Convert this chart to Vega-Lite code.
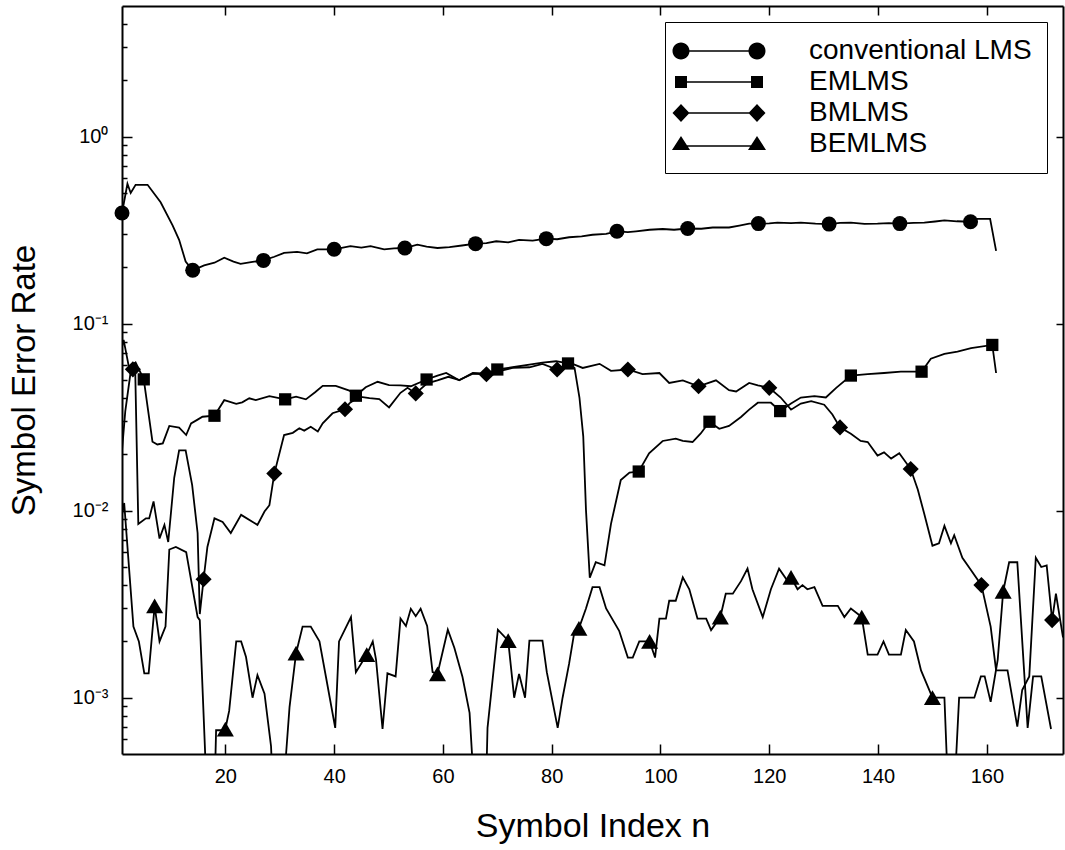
{
  "$schema": "https://vega.github.io/schema/vega-lite/v6.json",
  "width": 941,
  "height": 748,
  "autosize": {"type": "none"},
  "padding": {"left": 122, "top": 6, "right": 2, "bottom": 96},
  "background": "white",
  "config": {"view": {"stroke": null}, "font": "Liberation Sans"},
  "datasets": {
    "lines": [
      {"s":"C","n":1,"v":0.391},{"s":"C","n":2,"v":0.56},{"s":"C","n":2.6,"v":0.5},{"s":"C","n":3.5,"v":0.553},{"s":"C","n":5.7,"v":0.553},{"s":"C","n":8.1,"v":0.446},{"s":"C","n":10.3,"v":0.336},{"s":"C","n":11.5,"v":0.281},{"s":"C","n":12.7,"v":0.215},{"s":"C","n":14,"v":0.193},{"s":"C","n":16.1,"v":0.205},{"s":"C","n":18,"v":0.212},{"s":"C","n":19.8,"v":0.2255},{"s":"C","n":21.5,"v":0.215},{"s":"C","n":22.8,"v":0.209},{"s":"C","n":25,"v":0.214},{"s":"C","n":27,"v":0.218},{"s":"C","n":29,"v":0.228},{"s":"C","n":30.8,"v":0.239},{"s":"C","n":33.2,"v":0.242},{"s":"C","n":35,"v":0.238},{"s":"C","n":36.9,"v":0.25},{"s":"C","n":40,"v":0.25},{"s":"C","n":43,"v":0.26},{"s":"C","n":45,"v":0.255},{"s":"C","n":46.7,"v":0.26},{"s":"C","n":49.2,"v":0.25},{"s":"C","n":51,"v":0.253},{"s":"C","n":53,"v":0.254},{"s":"C","n":55.3,"v":0.265},{"s":"C","n":57,"v":0.258},{"s":"C","n":59,"v":0.254},{"s":"C","n":61.2,"v":0.257},{"s":"C","n":63.5,"v":0.262},{"s":"C","n":66,"v":0.268},{"s":"C","n":68,"v":0.27},{"s":"C","n":69.8,"v":0.276},{"s":"C","n":72,"v":0.272},{"s":"C","n":74,"v":0.281},{"s":"C","n":76.5,"v":0.278},{"s":"C","n":79,"v":0.285},{"s":"C","n":81,"v":0.283},{"s":"C","n":83.2,"v":0.29},{"s":"C","n":85.5,"v":0.293},{"s":"C","n":87.5,"v":0.299},{"s":"C","n":90,"v":0.302},{"s":"C","n":92,"v":0.312},{"s":"C","n":94,"v":0.309},{"s":"C","n":95.5,"v":0.312},{"s":"C","n":98,"v":0.318},{"s":"C","n":100.4,"v":0.321},{"s":"C","n":102.5,"v":0.318},{"s":"C","n":105,"v":0.323},{"s":"C","n":107.5,"v":0.322},{"s":"C","n":109.6,"v":0.327},{"s":"C","n":112.6,"v":0.327},{"s":"C","n":114.5,"v":0.335},{"s":"C","n":116.3,"v":0.343},{"s":"C","n":118,"v":0.343},{"s":"C","n":120,"v":0.344},{"s":"C","n":121.5,"v":0.347},{"s":"C","n":124,"v":0.345},{"s":"C","n":125.8,"v":0.347},{"s":"C","n":128.5,"v":0.343},{"s":"C","n":131,"v":0.341},{"s":"C","n":133,"v":0.346},{"s":"C","n":135,"v":0.347},{"s":"C","n":137.5,"v":0.342},{"s":"C","n":139.9,"v":0.343},{"s":"C","n":142,"v":0.345},{"s":"C","n":144,"v":0.343},{"s":"C","n":146.5,"v":0.346},{"s":"C","n":148.5,"v":0.347},{"s":"C","n":150.5,"v":0.352},{"s":"C","n":152.2,"v":0.357},{"s":"C","n":154.5,"v":0.353},{"s":"C","n":157,"v":0.351},{"s":"C","n":158.3,"v":0.364},{"s":"C","n":160.6,"v":0.364},{"s":"C","n":161.7,"v":0.245},

      {"s":"E","n":1,"v":0.075},{"s":"E","n":1.3,"v":0.082},{"s":"E","n":2.3,"v":0.058},{"s":"E","n":3.5,"v":0.062},{"s":"E","n":5,"v":0.0504},{"s":"E","n":6.6,"v":0.0234},{"s":"E","n":7.5,"v":0.0226},{"s":"E","n":8.5,"v":0.0229},{"s":"E","n":9.7,"v":0.0284},{"s":"E","n":11.5,"v":0.0278},{"s":"E","n":12.8,"v":0.0254},{"s":"E","n":13.7,"v":0.0293},{"s":"E","n":14.9,"v":0.0307},{"s":"E","n":15.8,"v":0.0318},{"s":"E","n":18,"v":0.0322},{"s":"E","n":19.8,"v":0.039},{"s":"E","n":22,"v":0.0373},{"s":"E","n":23.1,"v":0.038},{"s":"E","n":24.4,"v":0.0399},{"s":"E","n":25.6,"v":0.039},{"s":"E","n":28.1,"v":0.041},{"s":"E","n":31,"v":0.0394},{"s":"E","n":33,"v":0.0407},{"s":"E","n":34.8,"v":0.0394},{"s":"E","n":36.5,"v":0.043},{"s":"E","n":37.9,"v":0.0465},{"s":"E","n":40.3,"v":0.0465},{"s":"E","n":42.8,"v":0.0439},{"s":"E","n":44,"v":0.0412},{"s":"E","n":45.8,"v":0.0457},{"s":"E","n":48,"v":0.0489},{"s":"E","n":50.1,"v":0.047},{"s":"E","n":52.2,"v":0.0468},{"s":"E","n":54.1,"v":0.0463},{"s":"E","n":57,"v":0.0503},{"s":"E","n":59,"v":0.0528},{"s":"E","n":60.6,"v":0.0545},{"s":"E","n":63,"v":0.0498},{"s":"E","n":65.5,"v":0.0545},{"s":"E","n":67.9,"v":0.054},{"s":"E","n":70,"v":0.0569},{"s":"E","n":72.8,"v":0.0585},{"s":"E","n":75.9,"v":0.0605},{"s":"E","n":78.3,"v":0.062},{"s":"E","n":80.8,"v":0.063},{"s":"E","n":83,"v":0.0613},{"s":"E","n":84.2,"v":0.058},{"s":"E","n":85.1,"v":0.0403},{"s":"E","n":85.8,"v":0.025},{"s":"E","n":86.3,"v":0.0101},{"s":"E","n":87,"v":0.00438},{"s":"E","n":88.1,"v":0.0053},{"s":"E","n":89.7,"v":0.0051},{"s":"E","n":90.9,"v":0.0085},{"s":"E","n":92.7,"v":0.0146},{"s":"E","n":94.3,"v":0.016},{"s":"E","n":96,"v":0.0162},{"s":"E","n":97.9,"v":0.0203},{"s":"E","n":100.4,"v":0.0236},{"s":"E","n":102.8,"v":0.0243},{"s":"E","n":104.1,"v":0.0236},{"s":"E","n":105.9,"v":0.0233},{"s":"E","n":107.4,"v":0.0259},{"s":"E","n":109,"v":0.0299},{"s":"E","n":110.8,"v":0.0274},{"s":"E","n":112.6,"v":0.0284},{"s":"E","n":114.8,"v":0.0317},{"s":"E","n":116.3,"v":0.0347},{"s":"E","n":117.9,"v":0.0378},{"s":"E","n":120.3,"v":0.0378},{"s":"E","n":122,"v":0.0341},{"s":"E","n":124,"v":0.0374},{"s":"E","n":125.8,"v":0.0403},{"s":"E","n":128.3,"v":0.041},{"s":"E","n":130.4,"v":0.0403},{"s":"E","n":132.3,"v":0.0454},{"s":"E","n":135,"v":0.0528},{"s":"E","n":138.1,"v":0.0537},{"s":"E","n":141.1,"v":0.0545},{"s":"E","n":144.2,"v":0.0554},{"s":"E","n":148,"v":0.0554},{"s":"E","n":149.7,"v":0.065},{"s":"E","n":152.2,"v":0.069},{"s":"E","n":154.6,"v":0.071},{"s":"E","n":157.1,"v":0.074},{"s":"E","n":161,"v":0.077},{"s":"E","n":161.7,"v":0.0545},

      {"s":"B","n":1,"v":0.021},{"s":"B","n":1.6,"v":0.034},{"s":"B","n":2.6,"v":0.0555},{"s":"B","n":3,"v":0.057},{"s":"B","n":3.4,"v":0.062},{"s":"B","n":4,"v":0.0085},{"s":"B","n":5.4,"v":0.0091},{"s":"B","n":6,"v":0.0091},{"s":"B","n":6.8,"v":0.0112},{"s":"B","n":7.9,"v":0.0071},{"s":"B","n":8.8,"v":0.0084},{"s":"B","n":9.5,"v":0.0068},{"s":"B","n":10.6,"v":0.015},{"s":"B","n":11.5,"v":0.021},{"s":"B","n":12.7,"v":0.021},{"s":"B","n":13.9,"v":0.0137},{"s":"B","n":14.9,"v":0.0076},{"s":"B","n":15.3,"v":0.0028},{"s":"B","n":16,"v":0.0043},{"s":"B","n":16.7,"v":0.0064},{"s":"B","n":18,"v":0.0091},{"s":"B","n":19.5,"v":0.0087},{"s":"B","n":21,"v":0.0076},{"s":"B","n":22.9,"v":0.0095},{"s":"B","n":25.9,"v":0.0084},{"s":"B","n":27.2,"v":0.0099},{"s":"B","n":28.1,"v":0.0107},{"s":"B","n":29,"v":0.0158},{"s":"B","n":30.8,"v":0.0254},{"s":"B","n":32.4,"v":0.0261},{"s":"B","n":33.6,"v":0.0276},{"s":"B","n":34.5,"v":0.0268},{"s":"B","n":35.7,"v":0.0281},{"s":"B","n":37,"v":0.0265},{"s":"B","n":37.9,"v":0.0293},{"s":"B","n":39.7,"v":0.0332},{"s":"B","n":42,"v":0.0349},{"s":"B","n":42.8,"v":0.0375},{"s":"B","n":44.6,"v":0.0407},{"s":"B","n":46.5,"v":0.04},{"s":"B","n":48.3,"v":0.0395},{"s":"B","n":50.1,"v":0.0357},{"s":"B","n":52.2,"v":0.0427},{"s":"B","n":53.5,"v":0.0454},{"s":"B","n":55,"v":0.0424},{"s":"B","n":57.1,"v":0.048},{"s":"B","n":59,"v":0.0498},{"s":"B","n":61,"v":0.052},{"s":"B","n":63,"v":0.05},{"s":"B","n":65.5,"v":0.054},{"s":"B","n":68,"v":0.0537},{"s":"B","n":70,"v":0.0555},{"s":"B","n":72.8,"v":0.058},{"s":"B","n":75.9,"v":0.0585},{"s":"B","n":78.3,"v":0.061},{"s":"B","n":81,"v":0.0569},{"s":"B","n":83.2,"v":0.062},{"s":"B","n":85.7,"v":0.058},{"s":"B","n":88.8,"v":0.061},{"s":"B","n":90.9,"v":0.056},{"s":"B","n":94,"v":0.0569},{"s":"B","n":96.7,"v":0.0537},{"s":"B","n":99.8,"v":0.0545},{"s":"B","n":101.6,"v":0.0482},{"s":"B","n":104.1,"v":0.0498},{"s":"B","n":107,"v":0.0463},{"s":"B","n":110.2,"v":0.0498},{"s":"B","n":112.6,"v":0.0441},{"s":"B","n":113.9,"v":0.0434},{"s":"B","n":116.3,"v":0.0482},{"s":"B","n":117.9,"v":0.0468},{"s":"B","n":120,"v":0.0454},{"s":"B","n":122.1,"v":0.0403},{"s":"B","n":124,"v":0.0347},{"s":"B","n":125.8,"v":0.0374},{"s":"B","n":127.7,"v":0.0385},{"s":"B","n":130.1,"v":0.0369},{"s":"B","n":131.6,"v":0.0327},{"s":"B","n":133,"v":0.0279},{"s":"B","n":135,"v":0.0258},{"s":"B","n":136.8,"v":0.0236},{"s":"B","n":138.1,"v":0.0233},{"s":"B","n":139.9,"v":0.0197},{"s":"B","n":141.1,"v":0.0205},{"s":"B","n":142.4,"v":0.019},{"s":"B","n":143.9,"v":0.0203},{"s":"B","n":146,"v":0.0167},{"s":"B","n":147.3,"v":0.013},{"s":"B","n":148.5,"v":0.0096},{"s":"B","n":150,"v":0.0065},{"s":"B","n":151.2,"v":0.0067},{"s":"B","n":152.2,"v":0.0083},{"s":"B","n":153.4,"v":0.0067},{"s":"B","n":154,"v":0.0074},{"s":"B","n":155.5,"v":0.0056},{"s":"B","n":157.1,"v":0.0048},{"s":"B","n":159,"v":0.004},{"s":"B","n":160.7,"v":0.0024},{"s":"B","n":161.7,"v":0.0014},{"s":"B","n":163.8,"v":0.0014},{"s":"B","n":165.6,"v":0.0007},{"s":"B","n":166.5,"v":0.0011},{"s":"B","n":167.8,"v":0.0013},{"s":"B","n":169,"v":0.0056},{"s":"B","n":170,"v":0.005},{"s":"B","n":171,"v":0.0051},{"s":"B","n":172,"v":0.0026},{"s":"B","n":172.7,"v":0.0036},{"s":"B","n":174,"v":0.0021},

      {"s":"T","n":1,"v":0.0095},{"s":"T","n":1.4,"v":0.011},{"s":"T","n":3.1,"v":0.0024},{"s":"T","n":4.1,"v":0.002},{"s":"T","n":5.1,"v":0.00135},{"s":"T","n":5.9,"v":0.00135},{"s":"T","n":7,"v":0.0031},{"s":"T","n":7.9,"v":0.002},{"s":"T","n":9,"v":0.0024},{"s":"T","n":9.7,"v":0.0062},{"s":"T","n":10.9,"v":0.0064},{"s":"T","n":12.8,"v":0.006},{"s":"T","n":14.9,"v":0.0027},{"s":"T","n":15.3,"v":0.0026},{"s":"T","n":16.6,"v":0.0003},{"s":"T","n":18,"v":0.0003},{"s":"T","n":18.3,"v":0.00067},{"s":"T","n":19.8,"v":0.00067},{"s":"T","n":20,"v":0.00068},{"s":"T","n":20.7,"v":0.00085},{"s":"T","n":22,"v":0.002},{"s":"T","n":22.9,"v":0.002},{"s":"T","n":23.8,"v":0.00165},{"s":"T","n":25,"v":0.001},{"s":"T","n":25.9,"v":0.00132},{"s":"T","n":27.2,"v":0.00105},{"s":"T","n":28.4,"v":0.00055},{"s":"T","n":28.8,"v":0.0003},{"s":"T","n":30.6,"v":0.0003},{"s":"T","n":31.8,"v":0.00089},{"s":"T","n":33,"v":0.00173},{"s":"T","n":34.2,"v":0.0024},{"s":"T","n":35.7,"v":0.0024},{"s":"T","n":37.3,"v":0.002},{"s":"T","n":38.5,"v":0.00129},{"s":"T","n":40.2,"v":0.00069},{"s":"T","n":40.9,"v":0.002},{"s":"T","n":43.1,"v":0.0027},{"s":"T","n":44,"v":0.00137},{"s":"T","n":46,"v":0.0017},{"s":"T","n":47.1,"v":0.002},{"s":"T","n":47.7,"v":0.0016},{"s":"T","n":48.9,"v":0.00068},{"s":"T","n":49.8,"v":0.00135},{"s":"T","n":51.3,"v":0.0013},{"s":"T","n":52.2,"v":0.00265},{"s":"T","n":53.2,"v":0.00242},{"s":"T","n":54.1,"v":0.00299},{"s":"T","n":55,"v":0.00273},{"s":"T","n":55.9,"v":0.00299},{"s":"T","n":57.1,"v":0.00242},{"s":"T","n":58.1,"v":0.00137},{"s":"T","n":59,"v":0.00134},{"s":"T","n":60.9,"v":0.00231},{"s":"T","n":62.1,"v":0.00185},{"s":"T","n":63.6,"v":0.00129},{"s":"T","n":64.9,"v":0.00083},{"s":"T","n":65.8,"v":0.0003},{"s":"T","n":67.9,"v":0.0003},{"s":"T","n":68.2,"v":0.00069},{"s":"T","n":70.1,"v":0.00231},{"s":"T","n":72,"v":0.00202},{"s":"T","n":73.1,"v":0.001},{"s":"T","n":74,"v":0.00134},{"s":"T","n":75.1,"v":0.001},{"s":"T","n":75.9,"v":0.00202},{"s":"T","n":78.3,"v":0.00202},{"s":"T","n":79.1,"v":0.00137},{"s":"T","n":81.1,"v":0.00069},{"s":"T","n":82,"v":0.001},{"s":"T","n":83.2,"v":0.00152},{"s":"T","n":84.2,"v":0.00228},{"s":"T","n":85,"v":0.00235},{"s":"T","n":86.3,"v":0.003},{"s":"T","n":87.5,"v":0.0039},{"s":"T","n":88.8,"v":0.0039},{"s":"T","n":90,"v":0.003},{"s":"T","n":92.4,"v":0.00228},{"s":"T","n":94,"v":0.00164},{"s":"T","n":94.9,"v":0.00164},{"s":"T","n":96.1,"v":0.002},{"s":"T","n":98,"v":0.002},{"s":"T","n":99,"v":0.00164},{"s":"T","n":99.8,"v":0.00265},{"s":"T","n":101,"v":0.00265},{"s":"T","n":101.6,"v":0.0033},{"s":"T","n":102.8,"v":0.0033},{"s":"T","n":104.1,"v":0.0044},{"s":"T","n":105.3,"v":0.0038},{"s":"T","n":106.8,"v":0.00265},{"s":"T","n":108.4,"v":0.00265},{"s":"T","n":109.3,"v":0.0023},{"s":"T","n":111,"v":0.0027},{"s":"T","n":112,"v":0.0036},{"s":"T","n":113.3,"v":0.0036},{"s":"T","n":114.8,"v":0.0042},{"s":"T","n":116,"v":0.0049},{"s":"T","n":116.9,"v":0.0038},{"s":"T","n":118.8,"v":0.0027},{"s":"T","n":120.3,"v":0.0038},{"s":"T","n":121.8,"v":0.0049},{"s":"T","n":123.4,"v":0.0042},{"s":"T","n":124,"v":0.0044},{"s":"T","n":125.2,"v":0.0038},{"s":"T","n":126.1,"v":0.004},{"s":"T","n":127,"v":0.0038},{"s":"T","n":128.3,"v":0.0039},{"s":"T","n":129.8,"v":0.0031},{"s":"T","n":132.6,"v":0.0031},{"s":"T","n":133.8,"v":0.0027},{"s":"T","n":135,"v":0.003},{"s":"T","n":137,"v":0.0027},{"s":"T","n":138.1,"v":0.0017},{"s":"T","n":139.9,"v":0.0017},{"s":"T","n":141,"v":0.002},{"s":"T","n":142,"v":0.0017},{"s":"T","n":144.2,"v":0.0017},{"s":"T","n":145.1,"v":0.0023},{"s":"T","n":146.6,"v":0.002},{"s":"T","n":147.9,"v":0.0014},{"s":"T","n":150,"v":0.001},{"s":"T","n":152.2,"v":0.001},{"s":"T","n":152.9,"v":0.0003},{"s":"T","n":154,"v":0.0003},{"s":"T","n":154.9,"v":0.001},{"s":"T","n":157.7,"v":0.001},{"s":"T","n":158.9,"v":0.0013},{"s":"T","n":159.6,"v":0.0013},{"s":"T","n":160.7,"v":0.00095},{"s":"T","n":162,"v":0.0016},{"s":"T","n":163,"v":0.0037},{"s":"T","n":164.1,"v":0.0053},{"s":"T","n":165.6,"v":0.0053},{"s":"T","n":167.5,"v":0.00069},{"s":"T","n":168.5,"v":0.0013},{"s":"T","n":170,"v":0.0013},{"s":"T","n":171.8,"v":0.00068}
    ],
    "markers": [
      {"series":"conventional LMS","n":1,"v":0.391},{"series":"conventional LMS","n":14,"v":0.193},{"series":"conventional LMS","n":27,"v":0.218},{"series":"conventional LMS","n":40,"v":0.25},{"series":"conventional LMS","n":53,"v":0.254},{"series":"conventional LMS","n":66,"v":0.268},{"series":"conventional LMS","n":79,"v":0.285},{"series":"conventional LMS","n":92,"v":0.312},{"series":"conventional LMS","n":105,"v":0.323},{"series":"conventional LMS","n":118,"v":0.343},{"series":"conventional LMS","n":131,"v":0.341},{"series":"conventional LMS","n":144,"v":0.343},{"series":"conventional LMS","n":157,"v":0.351},
      {"series":"EMLMS","n":5,"v":0.0504},{"series":"EMLMS","n":18,"v":0.0322},{"series":"EMLMS","n":31,"v":0.0394},{"series":"EMLMS","n":44,"v":0.0412},{"series":"EMLMS","n":57,"v":0.0503},{"series":"EMLMS","n":70,"v":0.0569},{"series":"EMLMS","n":83,"v":0.0613},{"series":"EMLMS","n":96,"v":0.0162},{"series":"EMLMS","n":109,"v":0.0299},{"series":"EMLMS","n":122,"v":0.0341},{"series":"EMLMS","n":135,"v":0.0528},{"series":"EMLMS","n":148,"v":0.0554},{"series":"EMLMS","n":161,"v":0.077},
      {"series":"BMLMS","n":3,"v":0.057},{"series":"BMLMS","n":16,"v":0.0043},{"series":"BMLMS","n":29,"v":0.0158},{"series":"BMLMS","n":42,"v":0.0349},{"series":"BMLMS","n":55,"v":0.0424},{"series":"BMLMS","n":68,"v":0.0537},{"series":"BMLMS","n":81,"v":0.0569},{"series":"BMLMS","n":94,"v":0.0569},{"series":"BMLMS","n":107,"v":0.0463},{"series":"BMLMS","n":120,"v":0.0454},{"series":"BMLMS","n":133,"v":0.0279},{"series":"BMLMS","n":146,"v":0.0167},{"series":"BMLMS","n":159,"v":0.004},{"series":"BMLMS","n":172,"v":0.0026},
      {"series":"BEMLMS","n":7,"v":0.0031},{"series":"BEMLMS","n":20,"v":0.00068},{"series":"BEMLMS","n":33,"v":0.00173},{"series":"BEMLMS","n":46,"v":0.0017},{"series":"BEMLMS","n":59,"v":0.00134},{"series":"BEMLMS","n":72,"v":0.00202},{"series":"BEMLMS","n":85,"v":0.00235},{"series":"BEMLMS","n":98,"v":0.002},{"series":"BEMLMS","n":111,"v":0.0027},{"series":"BEMLMS","n":124,"v":0.0044},{"series":"BEMLMS","n":137,"v":0.0027},{"series":"BEMLMS","n":150,"v":0.001},{"series":"BEMLMS","n":163,"v":0.0037}
    ]
  },
  "layer": [
    {
      "data": {"name": "lines"},
      "mark": {"type": "line", "color": "black", "strokeWidth": 1.8, "clip": true},
      "encoding": {
        "x": {"field": "n", "type": "quantitative",
          "scale": {"domain": [1, 174], "nice": false, "zero": false},
          "axis": {"orient": "bottom", "values": [20,40,60,80,100,120,140,160], "grid": false,
            "tickSize": -10, "tickWidth": 1.5, "tickColor": "black", "domainColor": "black", "domainWidth": 2,
            "labelFont": "Liberation Sans", "labelFontSize": 20, "labelColor": "black", "labelPadding": 22,
            "title": "Symbol Index n", "titleFont": "Liberation Sans", "titleFontSize": 34, "titleFontWeight": "normal",
            "titleColor": "black", "minExtent": 30, "maxExtent": 30, "titlePadding": 25}},
        "y": {"field": "v", "type": "quantitative",
          "scale": {"type": "log", "domain": [0.0005, 5], "nice": false},
          "axis": {"orient": "left", "grid": false,
            "values": [0.0006,0.0007,0.0008,0.0009,0.001,0.002,0.003,0.004,0.005,0.006,0.007,0.008,0.009,0.01,0.02,0.03,0.04,0.05,0.06,0.07,0.08,0.09,0.1,0.2,0.3,0.4,0.5,0.6,0.7,0.8,0.9,1,2,3,4],
            "labelExpr": "datum.value == 1 ? '10⁰' : datum.value == 0.1 ? '10⁻¹' : datum.value == 0.01 ? '10⁻²' : datum.value == 0.001 ? '10⁻³' : ''",
            "tickSize": {"condition": {"test": "abs(log(datum.value)/LN10 - round(log(datum.value)/LN10)) < 0.001", "value": -10}, "value": -5},
            "tickWidth": 1.5, "tickColor": "black", "domainColor": "black", "domainWidth": 2,
            "labelFont": "Liberation Sans", "labelFontSize": 20, "labelColor": "black", "labelPadding": 24,
            "title": "Symbol Error Rate", "titleFont": "Liberation Sans", "titleFontSize": 33, "titleFontWeight": "normal",
            "titleColor": "black", "minExtent": 55, "maxExtent": 55, "titlePadding": 26}},
        "detail": {"field": "s"}
      }
    },
    {
      "data": {"name": "markers"},
      "mark": {"type": "point", "filled": true, "color": "black", "opacity": 1},
      "encoding": {
        "x": {"field": "n", "type": "quantitative",
          "scale": {"domain": [1, 174], "nice": false, "zero": false},
          "axis": {"orient": "top", "values": [20,40,60,80,100,120,140,160], "labels": false, "title": null, "grid": false,
            "tickSize": -9, "tickWidth": 1.5, "tickColor": "black", "domainColor": "black", "domainWidth": 2}},
        "y": {"field": "v", "type": "quantitative",
          "scale": {"type": "log", "domain": [0.0005, 5], "nice": false},
          "axis": {"orient": "right", "values": [0.001, 0.01, 0.1, 1], "labels": false, "title": null, "grid": false,
            "tickSize": -7, "tickWidth": 1.5, "tickColor": "black", "domainColor": "black", "domainWidth": 2}},
        "shape": {"field": "series", "type": "nominal",
          "scale": {"domain": ["conventional LMS", "EMLMS", "BMLMS", "BEMLMS"], "range": ["circle", "square", "diamond", "triangle-up"]},
          "legend": null},
        "size": {"condition": [
          {"test": "datum.series === 'EMLMS'", "value": 150},
          {"test": "datum.series === 'BMLMS'", "value": 260},
          {"test": "datum.series === 'BEMLMS'", "value": 290}
        ], "value": 225}
      }
    },
    {
      "data": {"name": "markers"},
      "mark": {"type": "point", "filled": true, "color": "black", "opacity": 0},
      "encoding": {
        "x": {"field": "n", "type": "quantitative", "axis": null},
        "y": {"field": "v", "type": "quantitative", "axis": null},
        "shape": {"field": "series", "type": "nominal",
          "scale": {"domain": ["conventional LMS", "EMLMS", "BMLMS", "BEMLMS"],
            "range": [
              "M-2.815,-0.056H2.815V0.056H-2.815ZM-3.445,0A0.63,0.63,0,1,1,-2.185,0A0.63,0.63,0,1,1,-3.445,0ZM2.185,0A0.63,0.63,0,1,1,3.445,0A0.63,0.63,0,1,1,2.185,0Z",
              "M-2.815,-0.056H2.815V0.056H-2.815ZM-3.259,-0.444H-2.371V0.444H-3.259ZM2.371,-0.444H3.259V0.444H2.371Z",
              "M-2.815,-0.056H2.815V0.056H-2.815ZM-2.815,-0.667L-2.185,0L-2.815,0.667L-3.445,0ZM2.815,-0.667L3.445,0L2.815,0.667L2.185,0Z",
              "M-2.815,0.092H2.815V0.204H-2.815ZM-2.815,-0.593L-2.148,0.444H-3.482ZM2.815,-0.593L3.482,0.444H2.148Z"
            ]},
          "legend": {"orient": "top-right", "offset": 16, "title": null, "padding": 15, "rowPadding": 3,
            "strokeColor": "black", "fillColor": "white",
            "labelFont": "Liberation Sans", "labelFontSize": 28, "labelColor": "black", "labelLimit": 400,
            "symbolSize": 729, "symbolOpacity": 1, "symbolFillColor": "black", "symbolStrokeColor": "black", "symbolStrokeWidth": 0,
            "symbolOffset": 25, "labelOffset": 76}}
      }
    }
  ],
  "resolve": {"axis": {"x": "independent", "y": "independent"}, "scale": {"shape": "independent"}}
}
